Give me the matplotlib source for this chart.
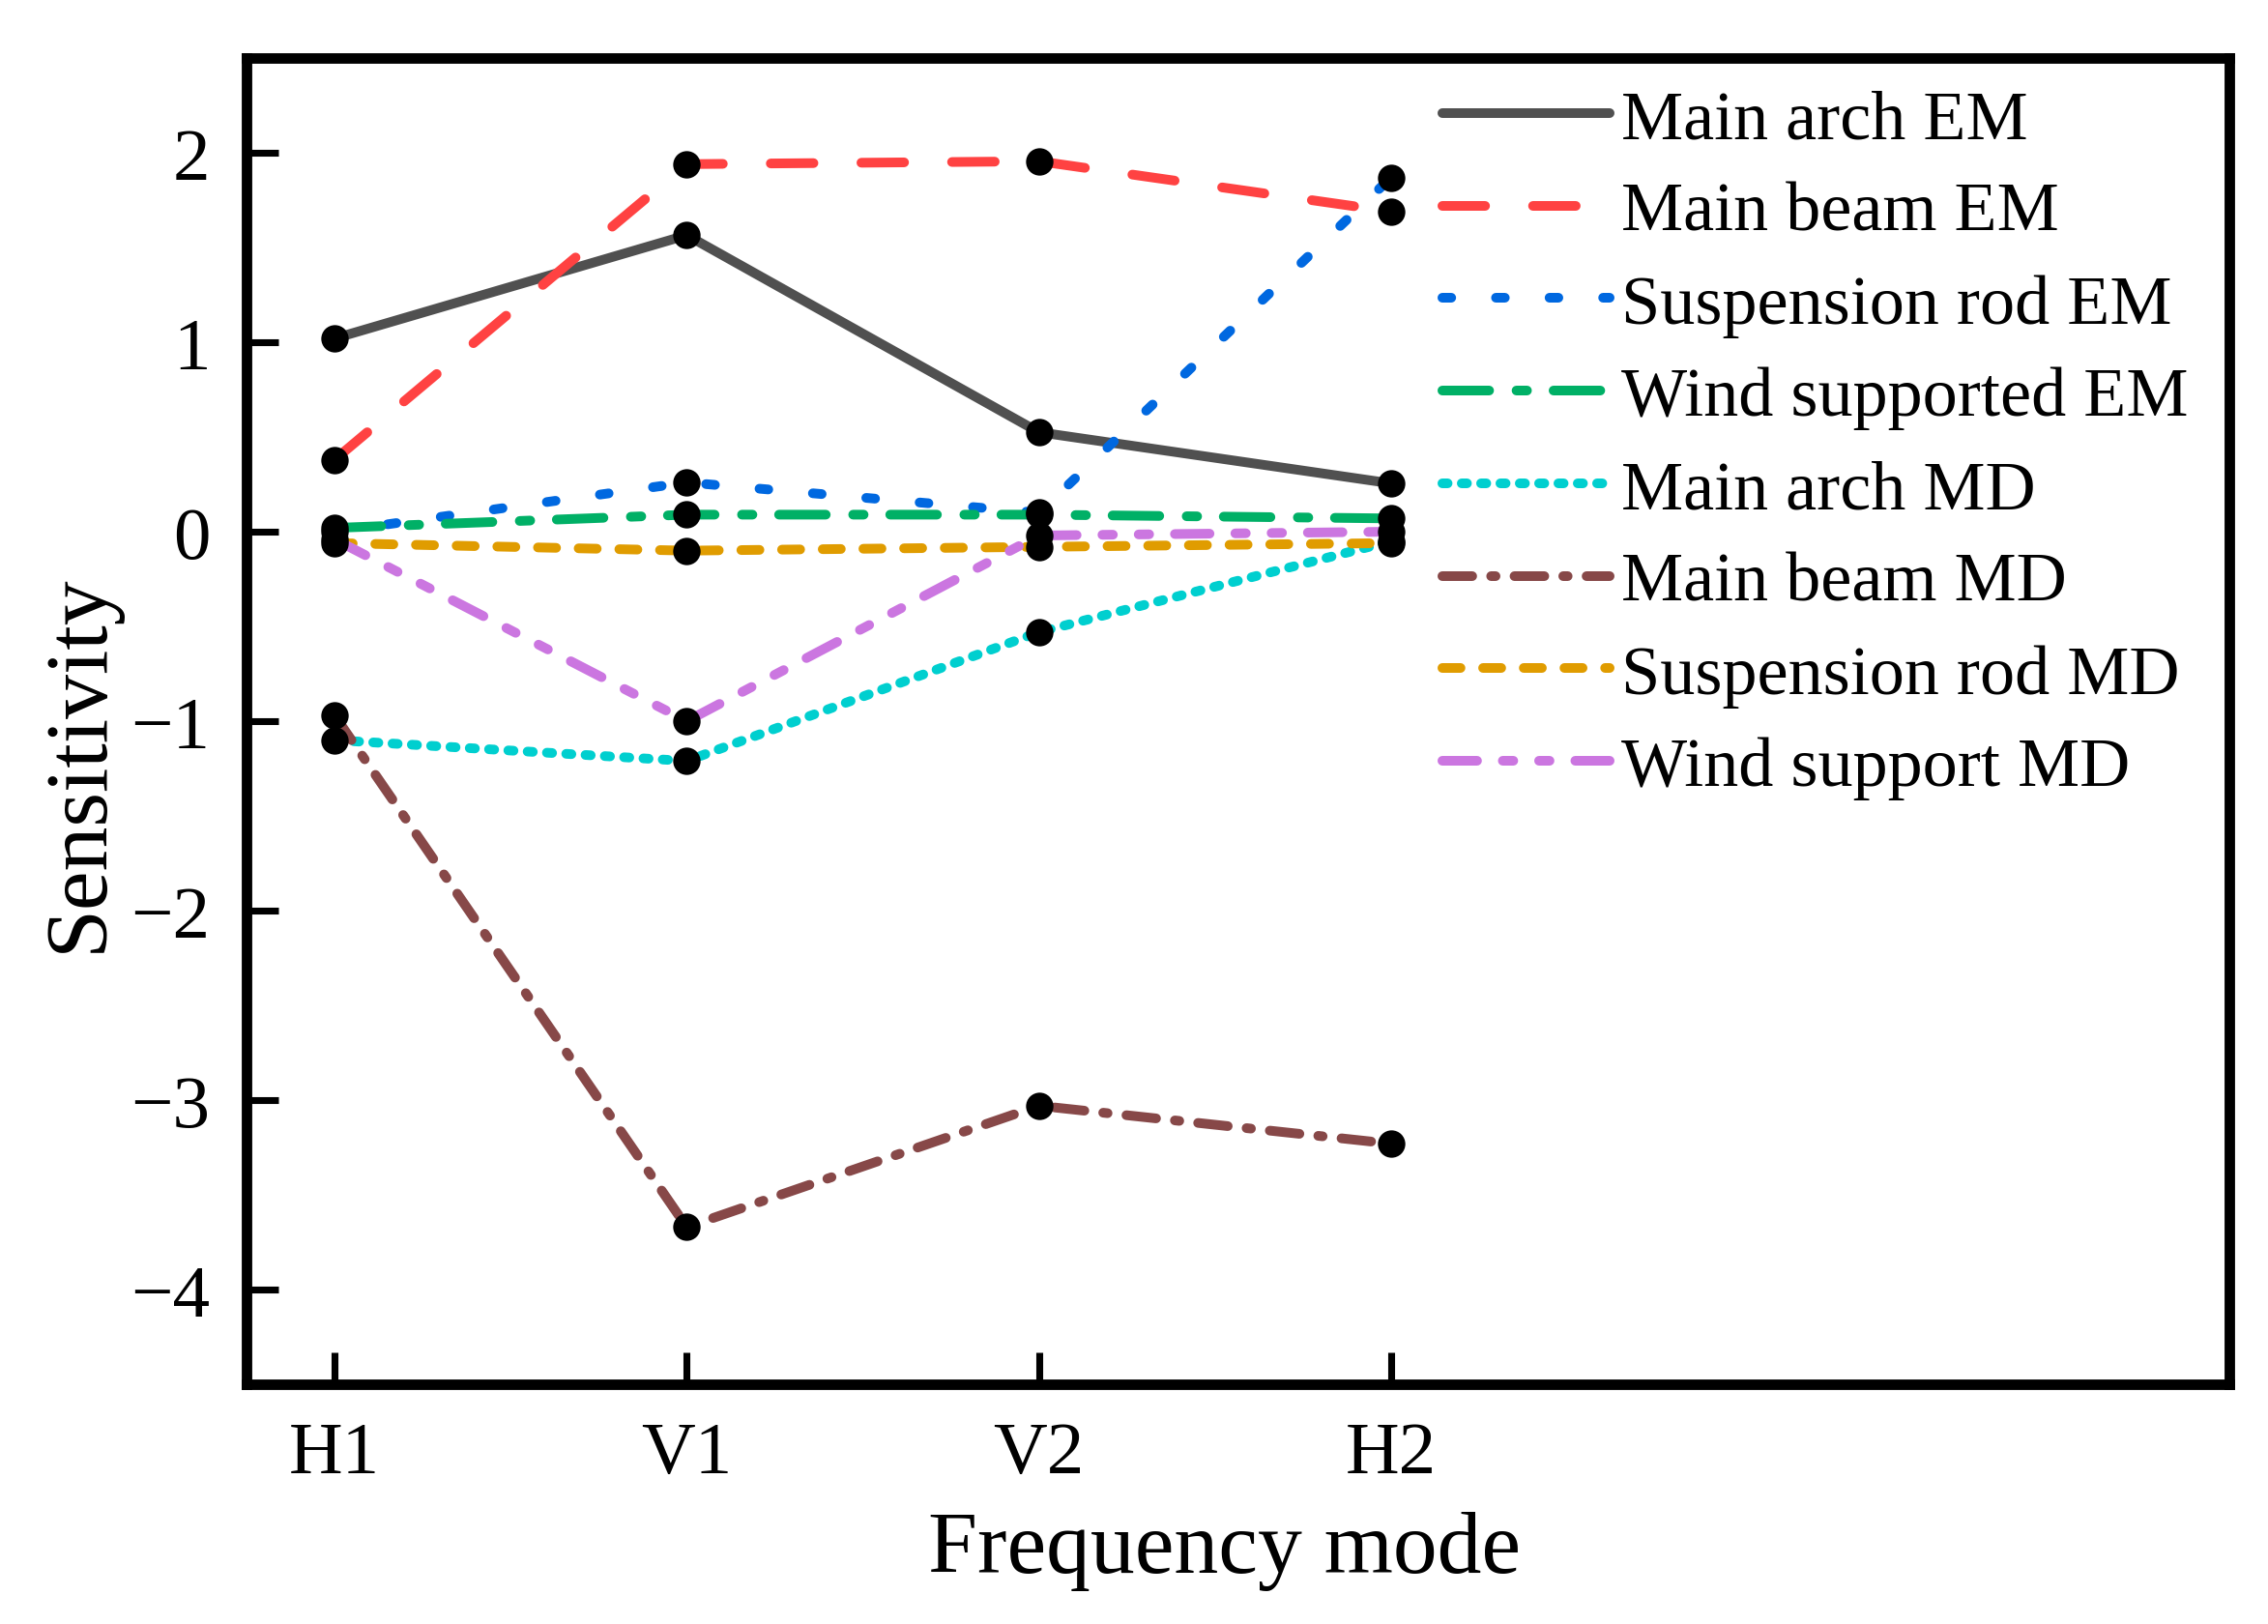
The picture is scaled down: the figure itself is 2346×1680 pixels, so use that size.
import numpy as np
import matplotlib
matplotlib.use("Agg")
import matplotlib.pyplot as plt

# Data
modes = ["H1", "V1", "V2", "H2"]
main_arch_em = [1.02, 1.565, 0.525, 0.255]
main_beam_em = [0.38, 1.94, 1.955, 1.69]
susp_rod_em = [0.00, 0.26, 0.10, 1.87]
wind_em = [0.02, 0.09, 0.09, 0.07]
main_arch_md = [-1.10, -1.21, -0.53, -0.05]
main_beam_md = [-0.97, -3.67, -3.03, -3.23]
susp_rod_md = [-0.06, -0.10, -0.08, -0.06]
wind_md = [-0.04, -1.00, -0.02, 0.00]

labels = ["Main arch EM", "Main beam EM", "Suspension rod EM", "Wind supported EM",
          "Main arch MD", "Main beam MD", "Suspension rod MD", "Wind support MD"]

plt.rcParams['font.family'] = ['Liberation Serif', 'DejaVu Serif']
plt.rcParams['lines.scale_dashes'] = False
plt.rcParams['axes.unicode_minus'] = True

LW = 2.4
styles = [
    ("#505050", None),
    ("#ff4242", (0, (10.6, 11.9))),
    ("#0068e0", (0, (2.2, 11.1))),
    ("#00b066", (0, (11.6, 6.8, 2.6, 6.6))),
    ("#00cfcf", (0, (1.3, 3.5))),
    ("#874848", (0, (7.4, 4.7, 1.1, 4.7))),
    ("#e09c00", (0, (4.5, 5.6))),
    ("#cb76e0", (0, (8.6, 6.4, 2.6, 6.4, 2.6, 6.4))),
]
series = [main_arch_em, main_beam_em, susp_rod_em, wind_em,
          main_arch_md, main_beam_md, susp_rod_md, wind_md]

fig = plt.figure(figsize=(7.82, 5.6033), dpi=300)
ax = fig.add_axes([0.1087, 0.1475, 0.8743, 0.8162])

x = np.arange(len(modes))
for vals, lab, (col, ls) in zip(series, labels, styles):
    if ls is None:
        ax.plot(x, vals, color=col, lw=LW, label=lab, solid_capstyle='round', zorder=2)
    else:
        ax.plot(x, vals, color=col, lw=LW, linestyle=ls, label=lab,
                dash_capstyle='round', zorder=2)
# black dots at every data point
for vals in series:
    ax.plot(x, vals, linestyle='none', marker='o', ms=5.8, color='black', zorder=3)

ax.set_xlim(-0.25, 5.38)
ax.set_ylim(-4.5, 2.5)
ax.set_xticks(x)
ax.set_xticklabels(modes)
ax.set_yticks([-4, -3, -2, -1, 0, 1, 2])

for sp in ax.spines.values():
    sp.set_linewidth(2.6)
ax.tick_params(direction='in', length=8, width=1.7, labelsize=18.5, pad=9)

ax.set_xlabel("Frequency mode", fontsize=22, labelpad=6)
ax.xaxis.set_label_coords(0.493, -0.095)
ax.set_ylabel("Sensitivity", fontsize=22)
ax.yaxis.set_label_coords(-0.064, 0.469)

ax.legend(loc='upper left', bbox_to_anchor=(0.603, 0.977), frameon=False,
          fontsize=17.3, handlelength=2.4, handletextpad=0.17,
          labelspacing=0.42, borderpad=0, borderaxespad=0)

fig.savefig("out.png", dpi=300)
